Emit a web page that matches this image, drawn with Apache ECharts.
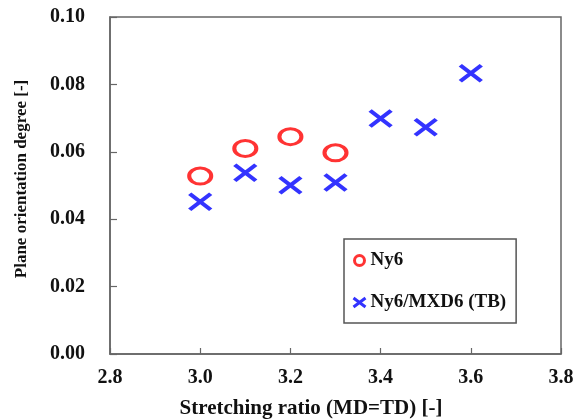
<!DOCTYPE html>
<html><head><meta charset="utf-8">
<script src="https://cdn.jsdelivr.net/npm/echarts@6/dist/echarts.min.js"></script>
<style>html,body{margin:0;padding:0;background:#fff}#c{width:577px;height:420px}</style>
</head><body><div id="c"></div>
<script>
const ny6X = [3.0, 3.1, 3.2, 3.3];
const ny6Y = [0.0528, 0.0610, 0.0645, 0.0597];
const mxdX = [3.0, 3.1, 3.2, 3.3, 3.4, 3.5, 3.6];
const mxdY = [0.0452, 0.0538, 0.0501, 0.0509, 0.0699, 0.0673, 0.0833];
const seriesNames = ['Ny6', 'Ny6/MXD6 (TB)'];
const xTitle = 'Stretching ratio (MD=TD) [-]';
const yTitle = 'Plane orientation degree [-]';

const FONT = '"Liberation Serif", "Times New Roman", serif';
const XPATH = 'path://M0,0L24,18M24,0L0,18';
const chart = echarts.init(document.getElementById('c'), null, {renderer: 'canvas'});
chart.setOption({
  animation: false,
  backgroundColor: '#fff',
  grid: {left: 110, right: 16, top: 17, bottom: 66, show: true, borderColor: '#666', borderWidth: 1.5},
  xAxis: {
    type: 'value', min: 2.8, max: 3.8, interval: 0.2,
    axisLine: {show: true, lineStyle: {color: '#666', width: 1.5}},
    axisTick: {show: true, inside: true, length: 6, lineStyle: {color: '#666', width: 1.2}},
    splitLine: {show: false},
    axisLabel: {margin: 14, color: '#111', fontFamily: FONT, fontWeight: 'bold', fontSize: 20,
      formatter: v => v.toFixed(1)}
  },
  yAxis: {
    type: 'value', min: 0, max: 0.1, interval: 0.02,
    axisLine: {show: true, lineStyle: {color: '#666', width: 1.5}},
    axisTick: {show: true, inside: true, length: 7, lineStyle: {color: '#666', width: 1.2}},
    splitLine: {show: false},
    axisLabel: {margin: 25, color: '#111', fontFamily: FONT, fontWeight: 'bold', fontSize: 20,
      formatter: v => v.toFixed(2)}
  },
  legend: {
    left: 344, top: 239, orient: 'vertical',
    padding: [12, 10, 11, 8], itemGap: 23,
    itemWidth: 12, itemHeight: 10,
    borderColor: '#555', borderWidth: 1.5,
    textStyle: {fontFamily: FONT, fontWeight: 'bold', fontSize: 19, color: '#111'},
    data: [
      {name: seriesNames[0], icon: 'circle', itemStyle: {color: 'rgba(255,255,255,0)', borderColor: '#ff0000', borderWidth: 3}},
      {name: seriesNames[1], icon: XPATH, itemStyle: {color: '#0000ff', borderColor: '#0000ff', borderWidth: 3}}
    ]
  },
  series: [
    {
      name: seriesNames[0], type: 'scatter', symbol: 'circle', symbolSize: [22, 16],
      itemStyle: {color: 'rgba(255,255,255,0)', borderColor: '#ff0000', borderWidth: 3.5},
      data: ny6X.map((x, i) => [x, ny6Y[i]])
    },
    {
      name: seriesNames[1], type: 'scatter', symbol: XPATH, symbolSize: [21, 16],
      itemStyle: {color: '#0000ff', borderColor: '#0000ff', borderWidth: 4},
      data: mxdX.map((x, i) => [x, mxdY[i]])
    }
  ],
  graphic: [
    {type: 'text', x: 311, y: 409, style: {text: xTitle, fontFamily: FONT, fontWeight: 'bold', fontSize: 21,
      fill: '#111', align: 'center', verticalAlign: 'middle'}},
    {type: 'text', x: 22, y: 179, rotation: Math.PI / 2, style: {text: yTitle, fontFamily: FONT, fontWeight: 'bold', fontSize: 17,
      fill: '#111', align: 'center', verticalAlign: 'middle'}}
  ]
});
</script></body></html>
